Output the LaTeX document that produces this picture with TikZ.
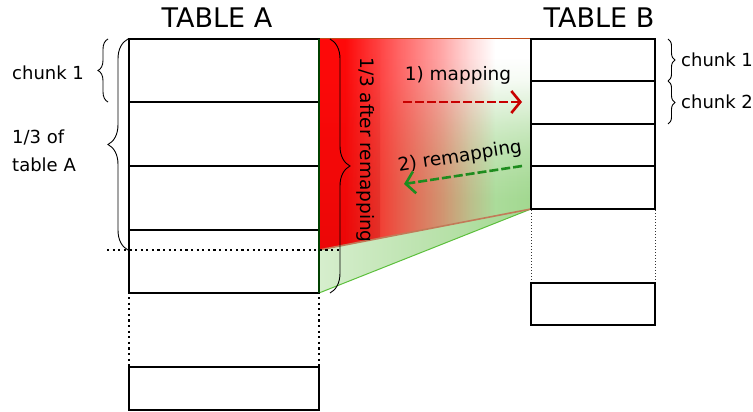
\documentclass[tikz,border=0pt]{standalone}
\usepackage{fontspec}
\setmainfont{DejaVu Sans}
\usetikzlibrary{decorations.pathreplacing,arrows.meta,fadings}
\definecolor{mapred}{HTML}{C80000}
\definecolor{remapgreen}{HTML}{1E8C1E}
\definecolor{lightgreen}{HTML}{A2D890}
\definecolor{palegreen}{HTML}{D6EECD}
\definecolor{edgegreen}{HTML}{5CBF3C}
\definecolor{edgebrown}{HTML}{C27A58}
\definecolor{hotred}{HTML}{FF0A0A}
% opacity profiles (white = opaque, black = transparent); the stops between
% 25bp and 75bp span the filled path
\pgfdeclarehorizontalshading{redfadeshading}{100bp}{color(0bp)=(white); color(31.1bp)=(white);
  color(44.1bp)=(white!62!black); color(53.5bp)=(white!37!black); color(60.6bp)=(white!15!black);
  color(66.5bp)=(black); color(100bp)=(black)}
\pgfdeclareverticalshading{whitefadeshading}{100bp}{color(0bp)=(black); color(36.8bp)=(black);
  color(41.6bp)=(white!8!black); color(48.7bp)=(white!25!black); color(54.6bp)=(white!45!black);
  color(60.5bp)=(white!70!black); color(65.3bp)=(white!90!black); color(70.5bp)=(white); color(100bp)=(white)}
% red fades out from left to right
\begin{tikzfadingfrompicture}[name=redfade]
  \path (-50bp,-50bp) rectangle (50bp,50bp);
  \shade[shading=redfadeshading] (-25bp,-50bp) rectangle (25bp,50bp);
  \fill[transparent!0] (-50bp,-50bp) rectangle (-24.9bp,50bp);
\end{tikzfadingfrompicture}
% white haze at the top, gone towards the bottom
\begin{tikzfadingfrompicture}[name=whitefade]
  \path (-50bp,-50bp) rectangle (50bp,50bp);
  \shade[shading=whitefadeshading] (-50bp,-25bp) rectangle (50bp,25bp);
  \fill[transparent!0] (-50bp,24.9bp) rectangle (50bp,50bp);
\end{tikzfadingfrompicture}
\tikzfading[name=darkfade, top color=transparent!100, bottom color=transparent!0]
\tikzset{
  row/.style={draw=black, line width=1.1pt},
  dotline/.style={line width=2.2pt, dash pattern=on 2.2pt off 3.4pt},
  thindots/.style={line width=1pt, dash pattern=on 1pt off 2pt, black!80},
  curly/.style={draw, line width=0.9pt, decorate},
  title/.style={font=\fontsize{27}{32}\selectfont, inner sep=0pt},
  lbl/.style={font=\fontsize{18}{28}\selectfont, inner sep=0pt},
  arrowlbl/.style={font=\fontsize{18.5}{22}\selectfont, inner sep=0pt},
  maparrow/.style={mapred, line width=2.6pt, dash pattern=on 9pt off 3pt,
    -{Straight Barb[length=9pt,width=22pt,line width=2.6pt]}},
  remaparrow/.style={remapgreen, line width=2.6pt, dash pattern=on 9pt off 3pt,
    -{Straight Barb[length=9pt,width=22pt,line width=2.6pt]}},
}
\begin{document}
\begin{tikzpicture}[x=1pt,y=-1pt]
\useasboundingbox (0,0) rectangle (753,412);

% corners of the mapped region
\coordinate (Atop) at (319,39);
\coordinate (Acut) at (319,250);
\coordinate (Abot) at (319,293);
\coordinate (Btop) at (531,39);
\coordinate (Bbot) at (531,209);

% green base of the trapezoid
\shade[left color=palegreen, right color=lightgreen]
  (Atop) -- (Btop) -- (Bbot) -- (Abot) -- cycle;
% white haze towards the top
\fill[white, path fading=whitefade]
  (Atop) -- (Btop) -- (Bbot) -- (Acut) -- cycle;
% red part (one third after remapping)
\fill[hotred, path fading=redfade]
  (Atop) -- (Btop) -- (Bbot) -- (Acut) -- cycle;
\fill[red!70!black, opacity=0.25, path fading=darkfade]
  (Atop) -- (380,39) -- (380,238) -- (Acut) -- cycle;
% region edges
\draw[edgegreen, line width=1pt] (Abot) -- (Bbot);
\draw[edgebrown, line width=1.6pt] (Acut) -- (Bbot);
\draw[red!60!edgegreen, line width=1pt] (Atop) -- (Btop);

% TABLE A
\draw[row] (129,39) rectangle (319,102);
\draw[row] (129,102) rectangle (319,166);
\draw[row] (129,166) rectangle (319,230);
\draw[row] (129,230) rectangle (319,293);
\draw[dotline] (129,297) -- (129,367);
\draw[dotline] (319,297) -- (319,367);
\draw[row] (129,367) rectangle (319,410);
\draw[row, black!75!green] (Atop) -- (Abot);
\draw[dotline] (107,250) -- (339,250);

% TABLE B
\draw[row] (531,39) rectangle (655,81);
\draw[row] (531,81) rectangle (655,124);
\draw[row] (531,124) rectangle (655,166);
\draw[row] (531,166) rectangle (655,209);
\draw[thindots] (531,210) -- (531,283);
\draw[thindots] (655,210) -- (655,283);
\draw[row] (531,283) rectangle (655,325);

% titles
\node[title] (titleA) at (217,18) {TABLE A};
\node[title] (titleB) at (599,18) {TABLE B};

% braces of table A
\draw[curly, decoration={brace, amplitude=10pt}] (108,102) -- (108,39);
\draw[curly, decoration={brace, amplitude=20pt}] (128,250) -- (128,39);
\node[lbl, anchor=west] (chunkA) at (12,73) {chunk 1};
\node[lbl, anchor=west, align=left] (thirdA) at (12,151) {1/3 of\\table A};

% brace of the remapped third
\draw[curly, decoration={brace, amplitude=20pt}] (330,39) -- (330,293);
\node[arrowlbl, rotate=-90] (thirdR) at (366,150) {1/3 after remapping};

% braces of table B
\draw[curly, decoration={brace, amplitude=7pt}] (668,39) -- (668,81);
\draw[curly, decoration={brace, amplitude=7pt}] (668,81) -- (668,124);
\node[lbl, anchor=west] (chunkB1) at (681,60) {chunk 1};
\node[lbl, anchor=west] (chunkB2) at (681,102) {chunk 2};

% mapping arrows
\coordinate (mapS) at (403,102);
\coordinate (mapE) at (522,102);
\draw[maparrow] (mapS) -- (mapE);
\node[arrowlbl] (mapL) at (458,75) {1) mapping};

\coordinate (remS) at (522,166);
\coordinate (remE) at (404,184);
\draw[remaparrow] (remS) -- (remE);
\node[arrowlbl, rotate=9] (remL) at (460,157) {2) remapping};
\end{tikzpicture}
\end{document}
